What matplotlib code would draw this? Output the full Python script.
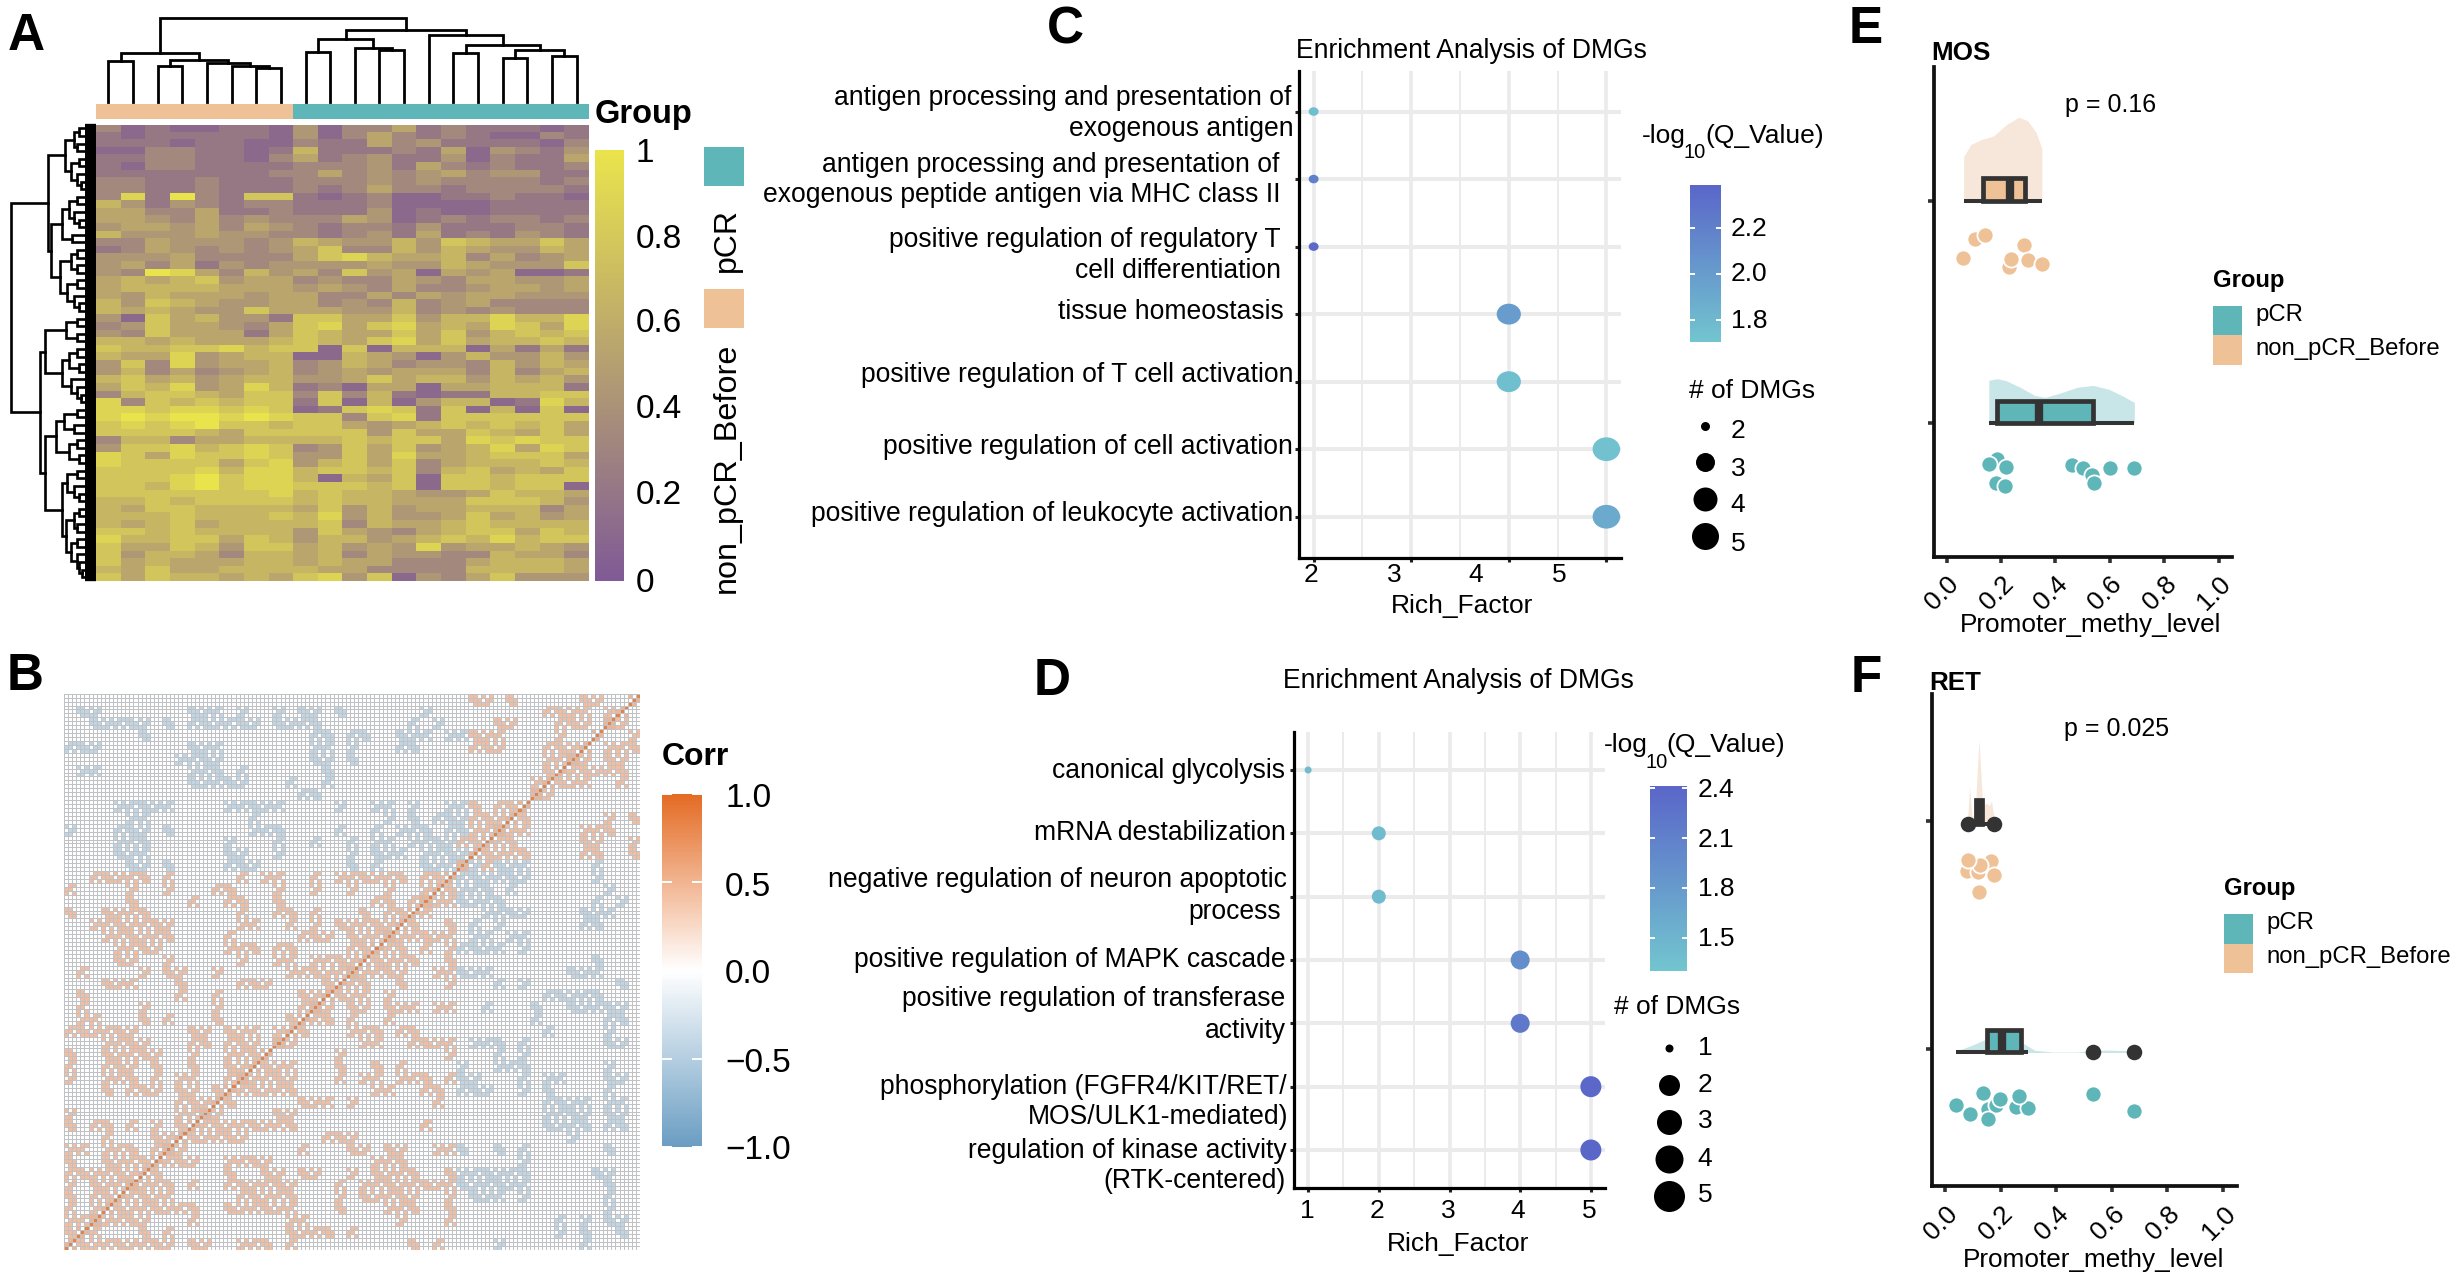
import numpy as np
import matplotlib
matplotlib.use('Agg')
import matplotlib.pyplot as plt
from matplotlib.colors import LinearSegmentedColormap, Normalize
from matplotlib.patches import Rectangle
from matplotlib.cm import ScalarMappable
from matplotlib.markers import MarkerStyle
from matplotlib.transforms import Affine2D

plt.rcParams['font.family'] = ['Liberation Sans', 'DejaVu Sans']

W, H = 2455, 1278
TEAL, PEACH = '#5FB6B9', '#EFC197'
TEAL_L, PEACH_L = '#C8E6E7', '#F6E7DA'
DARK = '#333333'

# ---------- Panel A data (estimated digit per cell, 0-9) ----------
GROUP = [1]*8 + [0]*12
HEAT_ROWS = [
"31211221413352322212","21222221413532321132","22212211322534222213","11332212622232514324",
"22332213523422413225","21332222333425323223","22222223353434534422","33223222333434333323",
"33223222323533233332","38293277212311223221","64243233222311112222","55335223222412112222",
"55435343335412323323","45545354323324222332","64445443323425232432","33544434654464765575",
"23543434573364654465","44453333578655635345","45352434444544654447","43985364537451545112",
"56567455343354355445","56666555454353345545","54655545533535455444","64765445534363453333",
"65654475554463434333","41756442775574668668","34755435785785658758","43755525765575746767",
"66565556765785756676","76677867717166615252",
"65584566116541464464","47384556346534436465","46353456345455536356","67564566445756646564",
"57684586231551556662","36776577373621226677","83767677271614661286","88788787127872716171",
"89899898773782777777","78789776775456767675","77776577777475576575","36635566667677587877",
"47786787347574568587","87587787447585567775","87777578467573566676","77778688677673675657",
"77789788616571776777","77689788777671776771","77777778676654457665","66767777676655577764",
"65776666574645566635","66676667684644575645","65675666673655676666","77676666475435677576",
"86677576466456768677","75576477564548455654","74665366563544336553","75655566565533356665",
"65755666655333366665","75766565784714357444",
]
# nested dendrogram merges: (height, left, right); leaves are row / column numbers
C1 = (145, (155, 0, 1), (150, 2, 3))
C2 = (140, (155, 4, 5), (150, 6, (158, 7, 8)))
C3 = (122, (135, (150, 9, 10), (145, 11, (155, 12, 13))), (142, 14, 15))
C4 = (140, (150, 16, 17), (150, 18, 19))
C5 = (132, (150, 20, 21), (145, 22, (155, 23, 24)))
UP = (95, (128, C1, C2), (100, C3, (118, C4, C5)))
L1 = (88, (130, (150, 25, 26), (150, 27, 28)),
      (122, (135, (150, 29, 30), (155, 31, 32)), (140, 33, (150, 34, (158, 35, 36)))))
L2 = (88, (110, (125, (150, 37, 38), (145, 39, 40)), (135, (150, 41, 42), (155, 43, 44))),
      (122, (132, (150, 45, 46), (145, 47, (155, 48, 49))),
       (130, (145, (155, 50, 51), (150, 52, 53)), (140, (150, 54, 55), (150, 56, (155, 57, (160, 58, 59)))))))
ROW_TREE = (22, UP, (78, L1, L2))
COL_TREE = (45,
            (133, (155, 0, 1), (152, (167, 2, 3), (160, 4, (167, 5, (172, 6, 7))))),
            (75, (98, (132, 8, 9), (120, 10, (127, 11, 12))),
             (88, 13, (113, (135, 14, 15), (125, (147, 16, 17), (142, 18, 19))))))

# ---------- Panel B data: columns with positive / negative correlation, by row ----------
CORR_POS = ["33-34 36 42-43", "39-42 44", "35-36 40-42", "33-35 40", "33-35 39-41", "39-40", "39", "38", "",
    "33 35-36", "33-35", "33-34", "32-33", "32", "", "2-6 8 14 16-17 20 22-27 29-30", "0 5 8 12-13 17 20 23 26 29",
    "5 10 13-14 17 25-26 28", "0 3-6 14 17-18 20 24 26-27", "2-8 14-15 18 20 22-26", "3-8 13 19-21 23-25",
    "4-7 13-15 17-18 23-24", "4-5 8 14 17-18 20-23", "1 6 8-9 12 18-22", "3-5 9 14-16 21", "1 9 12 19-20", "1 6 12 19",
    "1-2 6 8 12 18", "0-5 10-11 13-15 17", "3-6 10-11 13-15", "0 3-7 10 13-15", "0 3-5 7 10 13-14", "0 3-5 7 9-10 13",
    "3 5-7 9-10 12", "9-11", "0 9-10", "0 2-3 5 7 9", "3 7-8", "0-1 3-5 7", "0 3-6", "0-5", "0 2-4", "0 2-3", "0 2", "0-1", "0"]
CORR_NEG = ["", "1-2 10-12 14 17 19-20 22 29", "2-6 8 10-15 17-20 28 30", "6 20-21 23-24 27-29 31-32", "0-2 10-12 20-21 23 27-28",
    "9-12 20-21 23", "1-2 10-12 14 21", "10-14 18 21", "19-20", "4-8 13-17 22 25-26 28 31-32", "5-6 15 26 28 30-32",
    "0 4-6 8 15-17 22 25 27-29 31-32", "4-6 13 17 20 23 25-26 28-31", "4-6 13-14 17 23 25-27 29-32", "5-6 8 13-15 23 25 29-31"]
CORR_N = 47
CORR_STAMPS = [["110", "111", "011"], ["011", "110", "101"], ["101", "011", "110"]]
CORR_TICK_LABELS = ['1.0', '0.5', '0.0', '\u22120.5', '\u22121.0']

# ---------- Panels C / D ----------
C_TERMS_Y = [7, 6, 5, 4, 3, 2, 1]
C_RICH = [2, 2, 2, 4, 4, 5, 5]
C_COUNT = [2, 2, 2, 4, 4, 5, 5]
C_Q = [1.76, 2.2, 2.36, 2.0, 1.75, 1.73, 1.9]
C_XTICK_LABELS = ['2', '3', '4', '5']
C_LABELS = [("antigen processing and presentation of", 825, 61), ("exogenous antigen", 826, 81),
    ("antigen processing and presentation of", 817, 104), ("exogenous peptide antigen via MHC class II", 818, 123),
    ("positive regulation of regulatory T", 818, 152), ("cell differentiation", 818, 172),
    ("tissue homeostasis", 820, 198), ("positive regulation of T cell activation", 826, 238),
    ("positive regulation of cell activation", 826, 284), ("positive regulation of leukocyte activation", 826, 327)]
D_TERMS_Y = [7, 6, 5, 4, 3, 2, 1]
D_RICH = [1, 2, 2, 4, 4, 5, 5]
D_COUNT = [1, 2, 2, 4, 4, 5, 5]
D_Q = [1.42, 1.42, 1.42, 1.95, 2.2, 2.38, 2.4]
D_LABELS = [("canonical glycolysis", 821, 491), ("mRNA destabilization", 821, 531),
    ("negative regulation of neuron apoptotic", 822, 561), ("process", 818, 581),
    ("positive regulation of MAPK cascade", 821, 612), ("positive regulation of transferase", 821, 637),
    ("activity", 821, 657), ("phosphorylation (FGFR4/KIT/RET/", 822, 693), ("MOS/ULK1-mediated)", 823, 712),
    ("regulation of kinase activity", 822, 734), ("(RTK-centered)", 821, 753)]

# ---------- Panels E / F: x, offset below the group line ----------
E_NON_X = [.105, .229, .06, .142, .236, .285, .298, .35]
E_NON_Y = [-.171, -.298, -.258, -.155, -.261, -.201, -.266, -.286]
E_PCR_X = [.185, .18, .462, .503, .535, .155, .217, .216, .54, .6, .69]
E_PCR_Y = [-.163, -.27, -.188, -.202, -.234, -.183, -.199, -.284, -.268, -.204, -.204]
E_NON_KX = [.0625, .089, .128, .173, .219, .265, .298, .329, .35]
E_NON_KH = [.198, .252, .275, .291, .341, .375, .359, .306, .234]
E_PCR_KX = [.155, .186, .219, .271, .323, .362, .414, .479, .538, .597, .648, .69]
E_PCR_KH = [.192, .199, .190, .160, .124, .115, .133, .160, .169, .151, .121, .092]
E_NON_BOX = dict(wlo=.0625, q1=.135, med=.234, q3=.289, whi=.35, h=.10)
E_PCR_BOX = dict(wlo=.155, q1=.185, med=.34, q3=.538, whi=.69, h=.10)

F_NON_X = [.167, .08, .118, .126, .084, .176, .121]
F_NON_Y = [-.178, -.221, -.225, -.192, -.171, -.239, -.313]
F_PCR_X = [.156, .254, .299, .182, .038, .088, .137, .196, .265, .156, .533, .679]
F_PCR_Y = [-.26, -.251, -.256, -.242, -.244, -.282, -.19, -.218, -.206, -.303, -.194, -.272]
F_NON_KX = [.08, .088, .097, .108, .122, .135, .15, .159, .167, .18]
F_NON_KH = [.0, .16, .03, .05, .37, .085, .09, .08, .10, .0]
F_PCR_KX = [.038, .093, .144, .205, .258, .322, .386, .475, .533, .602, .679]
F_PCR_KH = [.005, .03, .057, .09, .057, .01, .002, .002, .01, .01, .007]
F_NON_OUT = [.084, .176]
F_PCR_OUT = [.533, .679]
F_NON_BOX = dict(wlo=.084, q1=.112, med=.122, q3=.134, whi=.176, h=.105)
F_PCR_BOX = dict(wlo=.038, q1=.151, med=.205, q3=.274, whi=.299, h=.10)
METHY_TICKS = [0.0, 0.2, 0.4, 0.6, 0.8, 1.0]

# ---------- layout helpers ----------
fig = plt.figure(figsize=(W/100, H/100), dpi=100, facecolor='white')


def ax_px(l, t, r, b, **kw):
    return fig.add_axes([l/W, 1-b/H, (r-l)/W, (b-t)/H], **kw)


ov = fig.add_axes([0, 0, 1, 1], zorder=20)
ov.set_xlim(0, W)
ov.set_ylim(H, 0)
ov.axis('off')
ov.patch.set_alpha(0)


def T(x, y, s, size=19, ha='left', va='center', **kw):
    return ov.text(x, y+2, s, fontsize=size, ha=ha, va=va, **kw)


def colorbar(box, cmap, vmin, vmax, ticks=(), notch=6):
    l, t, r, b = box
    cax = ax_px(l, t, r, b)
    cb = fig.colorbar(ScalarMappable(Normalize(vmin, vmax), cmap), cax=cax)
    cb.outline.set_visible(False)
    cb.set_ticks([])
    xl = cax.get_xlim()
    span = xl[1]-xl[0]
    frac = notch/(r-l)*span
    for v in ticks:
        cax.plot([xl[0], xl[0]+frac], [v, v], color='white', lw=1.4, solid_capstyle='butt')
        cax.plot([xl[1]-frac, xl[1]], [v, v], color='white', lw=1.4, solid_capstyle='butt')
    return cax


# ---------- Panel A ----------
heat_cmap = LinearSegmentedColormap.from_list('heat', ['#7F5A96', '#EAE44C'])
HEAT = np.array([[int(ch)/9 for ch in row] for row in HEAT_ROWS])
a = ax_px(96, 124.5, 589, 581)
a.imshow(HEAT, aspect='auto', cmap=heat_cmap, vmin=0, vmax=1, interpolation='nearest')
a.axis('off')

a_bar = ax_px(96, 103.5, 589, 119)
a_bar.imshow([GROUP], aspect='auto', cmap=LinearSegmentedColormap.from_list('g', [TEAL, PEACH]),
             vmin=0, vmax=1, interpolation='nearest')
a_bar.axis('off')

a_top = ax_px(96, 18, 589, 102)
a_top.set_xlim(-0.5, 19.5)
a_top.set_ylim(258, 45)
a_top.axis('off')


def draw_col(node):
    if isinstance(node, int):
        return node, 258
    h, l, r = node
    xl, yl = draw_col(l)
    xr, yr = draw_col(r)
    a_top.plot([xl, xl, xr, xr], [yl, h, h, yr], color='black', lw=2.0, clip_on=False, solid_joinstyle='miter')
    return (xl+xr)/2, h


draw_col(COL_TREE)

a_left = ax_px(11, 124.5, 96, 581)
a_left.set_xlim(22, 188)
a_left.set_ylim(59.5, -0.5)
a_left.axis('off')


def draw_row(node):
    if isinstance(node, int):
        a_left.plot([166, 188], [node, node], color='black', lw=6.0, solid_capstyle='butt', clip_on=False)
        return 166, node
    h, l, r = node
    xl, yl = draw_row(l)
    xr, yr = draw_row(r)
    a_left.plot([xl, h, h, xr], [yl, yl, yr, yr], color='black', lw=1.9, clip_on=False, solid_joinstyle='miter')
    return h, (yl+yr)/2


draw_row(ROW_TREE)

colorbar((595, 150, 624, 581), heat_cmap, 0, 1)
for lab, y in zip(['1', '0.8', '0.6', '0.4', '0.2', '0'], [151, 237, 322, 408, 494, 581]):
    T(636, y, lab, size=24)
T(595, 112, 'Group', size=23.5, weight='bold')
ov.add_patch(Rectangle((704, 147), 40, 39, color=TEAL, lw=0))
ov.add_patch(Rectangle((704, 289), 40, 39, color=PEACH, lw=0))
T(727, 238, 'pCR', size=23, rotation=90, ha='center')
T(727, 466, 'non_pCR_Before', size=23.3, rotation=90, ha='center')

# ---------- Panel B ----------
corr_cmap = LinearSegmentedColormap.from_list('corr', ['#6A9DC2', '#FFFFFF', '#E46B24'])


def parse(spec):
    out = []
    for part in spec.split():
        if '-' in part:
            p, q = part.split('-')
            out.extend(range(int(p), int(q)+1))
        else:
            out.append(int(part))
    return out


C = np.zeros((CORR_N, CORR_N))
for r, spec in enumerate(CORR_POS):
    for c in parse(spec):
        if c + r < CORR_N-1:
            C[r, c] = 0.44
for r, spec in enumerate(CORR_NEG):
    for c in parse(spec):
        if c + r < CORR_N-1:
            C[r, c] = -0.42
for r in range(CORR_N):
    for c in range(CORR_N):
        if c + r > CORR_N-1:
            C[r, c] = C[CORR_N-1-c, CORR_N-1-r]
        elif c + r == CORR_N-1:
            C[r, c] = 0.5
FINE = np.zeros((CORR_N*3, CORR_N*3))
for r in range(CORR_N):
    for c in range(CORR_N):
        st = CORR_STAMPS[(r+2*c) % 3]
        for i in range(3):
            for j in range(3):
                FINE[3*r+i, 3*c+j] = C[r, c]*int(st[i][j])
for i in range(FINE.shape[0]):
    FINE[i, FINE.shape[0]-1-i] = 0.85
b = ax_px(64, 693.7, 640, 1249.5)
b.pcolormesh(FINE, cmap=corr_cmap, vmin=-1, vmax=1, edgecolors='#BFC1C4', linewidth=0.6)
b.set_ylim(FINE.shape[0], 0)
b.axis('off')

colorbar((662, 794, 702, 1147), corr_cmap, -1, 1, ticks=[-0.5, 0.5, 0, -1, 1], notch=10)
for lab, y in zip(CORR_TICK_LABELS, [796.6, 885, 972.8, 1061, 1148.6]):
    T(725, y, lab, size=24)
T(662, 755, 'Corr', size=23, weight='bold')

# ---------- Panels C / D ----------
q_cmap = LinearSegmentedColormap.from_list('q', ['#72C5CF', '#5A66C9'])
WIDE_DOT = MarkerStyle('o', transform=Affine2D().scale(1.1, 0.95))


def enrich(box, xlim, ylim, xmaj, xmin, ys, xs, q, count, qlim, dmap, marker):
    ax = ax_px(*box)
    ax.set_xlim(*xlim)
    ax.set_ylim(*ylim)
    for v in xmin:
        ax.axvline(v, color='#EBEBEB', lw=1.4, zorder=1)
    for v in xmaj:
        ax.axvline(v, color='#EBEBEB', lw=2.6, zorder=1)
    for v in ys:
        ax.axhline(v, color='#EBEBEB', lw=2.9, zorder=1)
    ax.scatter(xs, ys, c=q, cmap=q_cmap, vmin=qlim[0], vmax=qlim[1], marker=marker,
               s=[(dmap[n]*0.72)**2 for n in count], linewidths=0, zorder=3, clip_on=False)
    ax.set_xticks(xmaj)
    ax.set_xticklabels([])
    ax.set_yticks(ys)
    ax.set_yticklabels([])
    ax.tick_params(length=3, width=2.2, color='#222222')
    for s in ['top', 'right']:
        ax.spines[s].set_visible(False)
    for s in ['left', 'bottom']:
        ax.spines[s].set_linewidth(2.3)
    return ax


enrich((1299, 71, 1621, 557.6), (1.85, 5.15), (0.395, 7.6), [2, 3, 4, 5], [2.5, 3.5, 4.5],
       C_TERMS_Y, C_RICH, C_Q, C_COUNT, (1.703, 2.386), {2: 9, 4: 22, 5: 25}, WIDE_DOT)
enrich((1294, 732, 1605, 1188), (0.8, 5.2), (0.4, 7.6), [1, 2, 3, 4, 5], [1.5, 2.5, 3.5, 4.5],
       D_TERMS_Y, D_RICH, D_Q, D_COUNT, (1.307, 2.41), {1: 7, 2: 14, 4: 19, 5: 21}, 'o')

SCALE = W/1568
for lab, xr, y in C_LABELS + D_LABELS:
    T(xr*SCALE, y*SCALE, lab, size=19.1, ha='right')
for lab, x in zip(C_XTICK_LABELS, [1311, 1394, 1476, 1559]):
    T(x, 573, lab, size=19, ha='center')
for lab, x in zip(['1', '2', '3', '4', '5'], [1307, 1377, 1448, 1518, 1589]):
    T(x, 1209, lab, size=19, ha='center')
T(1471, 48.5, 'Enrichment Analysis of DMGs', size=19.1, ha='center')
T(1458, 679.5, 'Enrichment Analysis of DMGs', size=19.1, ha='center')
T(1461.6, 604.5, 'Rich_Factor', size=19, ha='center')
T(1458, 1241.5, 'Rich_Factor', size=19, ha='center')

colorbar((1690, 184.8, 1721.4, 342), q_cmap, 1.703, 2.386, ticks=[1.8, 2.0, 2.2], notch=5)
colorbar((1650, 786.4, 1687.3, 970.6), q_cmap, 1.307, 2.41, ticks=[1.5, 1.8, 2.1, 2.4], notch=5)
for lab, y in zip(['2.2', '2.0', '1.8'], [227, 272, 319]):
    T(1731, y, lab, size=19)
for lab, y in zip(['2.4', '2.1', '1.8', '1.5'], [788, 838, 887, 937]):
    T(1698, y, lab, size=19)
for x0, y0 in [(1642, 134), (1603.6, 743)]:
    T(x0, y0, '-log', size=19)
    T(x0+41.5, y0+17, '10', size=14.5)
    T(x0+63, y0, '(Q_Value)', size=19)
T(1689, 389, '# of DMGs', size=19)
T(1613.6, 1005, '# of DMGs', size=19)
for lab, d, y, ly in zip(['2', '3', '4', '5'], [9, 19, 24, 27], [426, 461.5, 498.6, 535.8], [429, 466.6, 503, 542]):
    ov.scatter([1705], [y], s=(d*0.72)**2, color='black', linewidths=0)
    T(1738, ly, lab, size=19, ha='center')
for lab, d, y in zip(['1', '2', '3', '4', '5'], [8, 21, 25, 28, 31], [1047.6, 1084.8, 1121.5, 1158.7, 1195.5]):
    ov.scatter([1668.5], [y], s=(d*0.72)**2, color='black', linewidths=0)
    T(1705, y-2, lab, size=19, ha='center')


# ---------- Panels E / F ----------
def rain(ax, base, off, kx, kh, bx, dx, dy, box_col, dot_col, light):
    ax.fill_between(kx, base+off, base+off+np.array(kh), color=light, lw=0, zorder=1)
    y0 = base+off
    ax.plot([bx['wlo'], bx['whi']], [y0, y0], color=DARK, lw=2.9, zorder=3, solid_capstyle='butt')
    ax.add_patch(Rectangle((bx['q1'], y0), bx['q3']-bx['q1'], bx['h'], facecolor=box_col, edgecolor=DARK, lw=3.4, zorder=4))
    ax.plot([bx['med'], bx['med']], [y0, y0+bx['h']], color=DARK, lw=6.0, zorder=5, solid_capstyle='butt')
    ax.scatter(dx, base+np.array(dy), s=135, color=dot_col, edgecolors='white', linewidths=1.3, zorder=2)


def methy_axes(box, xlim, ylim):
    ax = ax_px(*box)
    ax.set_xlim(*xlim)
    ax.set_ylim(*ylim)
    for s in ['top', 'right']:
        ax.spines[s].set_visible(False)
    for s in ['left', 'bottom']:
        ax.spines[s].set_linewidth(2.7)
        ax.spines[s].set_color('#111111')
    ax.set_yticks([1, 2])
    ax.set_yticklabels([])
    ax.set_xticks(METHY_TICKS)
    ax.set_xticklabels([f'{v:.1f}' for v in METHY_TICKS], rotation=45, ha='right', rotation_mode='anchor', fontsize=19)
    ax.tick_params(length=4, width=2.6, color=DARK, pad=7)
    ax.patch.set_alpha(0)
    return ax


e = methy_axes((1933.6, 67.4, 2232, 556.8), (-0.048, 1.049), (0.398, 2.599))
rain(e, 2, 0, E_NON_KX, E_NON_KH, E_NON_BOX, E_NON_X, E_NON_Y, PEACH, PEACH, PEACH_L)
rain(e, 1, 0, E_PCR_KX, E_PCR_KH, E_PCR_BOX, E_PCR_X, E_PCR_Y, TEAL, TEAL, TEAL_L)

f = methy_axes((1932, 693.5, 2237, 1186.4), (-0.047, 1.05), (0.40, 2.557))
rain(f, 2, -0.014, F_NON_KX, F_NON_KH, F_NON_BOX, F_NON_X, F_NON_Y, DARK, PEACH, PEACH_L)
rain(f, 1, -0.014, F_PCR_KX, F_PCR_KH, F_PCR_BOX, F_PCR_X, F_PCR_Y, TEAL, TEAL, TEAL_L)
f.scatter(F_NON_OUT, [2-0.014]*2, s=125, color=DARK, linewidths=0, zorder=6)
f.scatter(F_PCR_OUT, [1-0.014]*2, s=125, color=DARK, linewidths=0, zorder=6)

T(1931, 51.5, 'MOS', size=18.7, weight='bold')
T(1929, 681.5, 'RET', size=18.7, weight='bold')
T(2065, 103, 'p = 0.16', size=18)
T(2063.5, 727, 'p = 0.025', size=18)
T(2091, 623, 'Promoter_methy_level', size=18.8, ha='center')
T(2094, 1258, 'Promoter_methy_level', size=18.8, ha='center')
for lx, gy, t1 in [(2213, 279, 306), (2224, 887, 914.4)]:
    T(lx, gy, 'Group', size=17.2, weight='bold')
    ov.add_patch(Rectangle((lx, t1), 29, 29.4, color=TEAL, lw=0))
    ov.add_patch(Rectangle((lx, t1+29.4), 29, 29.4, color=PEACH, lw=0))
    T(lx+42, t1+7, 'pCR', size=17.2)
    T(lx+42, t1+41, 'non_pCR_Before', size=17.2)

# ---------- panel letters ----------
for lab, x, y in [('A', 26, 29), ('B', 25.5, 669.5), ('C', 1065, 23), ('D', 1052, 674), ('E', 1866, 22), ('F', 1866, 671)]:
    T(x, y, lab, size=37, weight='bold', ha='center', va='center_baseline')

fig.savefig('out.png', dpi=100, facecolor='white')
